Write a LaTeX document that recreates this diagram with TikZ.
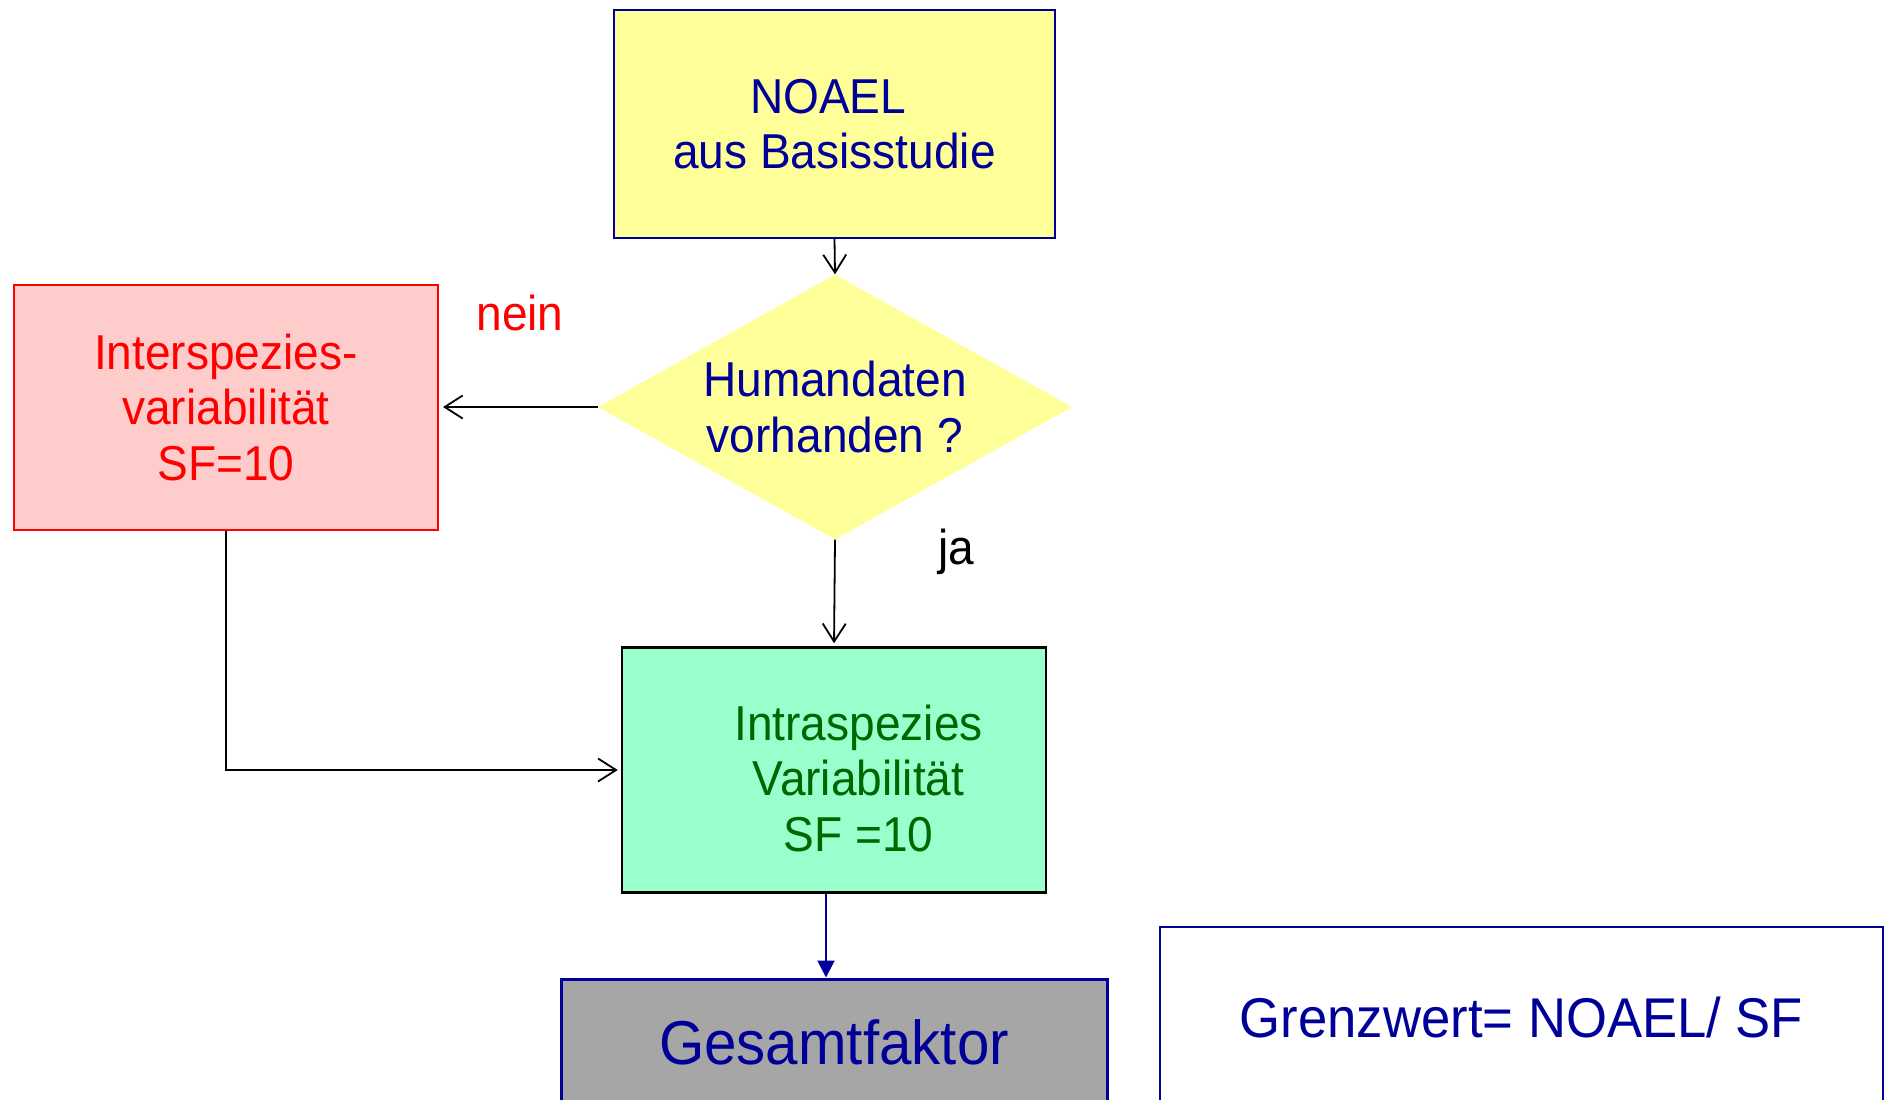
\documentclass[tikz,border=0pt]{standalone}
\usepackage{fontspec}
\setmainfont{Liberation Sans}[FakeStretch=0.94]
\usetikzlibrary{shapes,arrows.meta,positioning,calc}
\definecolor{flownavy}{RGB}{0,0,153}
\definecolor{flowyellow}{RGB}{255,255,153}
\definecolor{flowpink}{RGB}{255,204,204}
\definecolor{flowred}{RGB}{255,0,0}
\definecolor{flowmint}{RGB}{153,255,204}
\definecolor{flowgreen}{RGB}{0,102,0}
\definecolor{flowgray}{RGB}{166,166,166}

\begin{document}
\begin{tikzpicture}[x=1pt, y=-1pt,
		txt/.style={font=\fontsize{49}{55.5}\selectfont, align=center},
		box/.style={draw, rectangle, inner sep=0pt, txt},
		flow/.style={draw=black, line width=1.8pt, -{Straight Barb[length=18pt,width=23pt,line width=1.8pt]}},
		navyflow/.style={draw=flownavy, line width=2pt, -{Triangle[length=17pt,width=17pt]}}]
				% Page frame
				\useasboundingbox (0,0) rectangle (1887,1100);
				
				% Draw start box and decision
				\node[box, draw=flownavy, fill=flowyellow, text=flownavy, line width=2pt, minimum width=441pt, minimum height=228pt] (noael) at (834.5,124) {NOAEL\ \mbox{}\\aus Basisstudie};
				\node[diamond, txt, fill=flowyellow, text=flownavy, inner sep=0pt, aspect=1.79, minimum width=474pt, minimum height=265pt] (human) at (835,407) {Humandaten\\vorhanden ?};
				
				% Draw factor boxes
				\node[box, draw=flowred, fill=flowpink, text=flowred, line width=2pt, minimum width=424pt, minimum height=245pt] (inter) at (226,407) {Interspezies-\\variabilität\\SF=10};
				\node[box, draw=black, fill=flowmint, line width=2.5pt, minimum width=424pt, minimum height=245pt] (intra) at (834,770) {};
				\node[txt, text=flowgreen] (intratext) at (858.5,778) {Intraspezies\\Variabilität\\SF =10};
				
				% Draw result boxes
				\node[box, draw=flownavy, fill=flowgray, text=flownavy, line width=3pt, minimum width=546pt, minimum height=126pt, font=\fontsize{62}{70}\selectfont] (gesamt) at (834,1042) {Gesamtfaktor};
				\node[box, draw=flownavy, fill=white, text=flownavy, line width=2pt, minimum width=723pt, minimum height=180pt, font=\fontsize{56}{64}\selectfont] (grenz) at (1521.5,1017) {Grenzwert= NOAEL/ SF};
				
				% Draw connections
				\draw[flow] (noael.south) -- (human.north);
				\draw[flow, shorten >=4pt] (human.west) -- (inter.east);
				\draw[flow, shorten >=3pt] (human.south) -- (intra.north);
				\draw[flow, shorten >=3pt] (inter.south) |- (intra.west);
				\draw[navyflow] ([xshift=-8pt]intra.south) -- ([xshift=-8pt]intra.south |- gesamt.north);
				
				% Add labels
				\node[txt, text=flowred] (nein) at (520,313) {nein};
				\node[txt, text=black] (ja) at (956,552) {ja};
			\end{tikzpicture}
\end{document}
